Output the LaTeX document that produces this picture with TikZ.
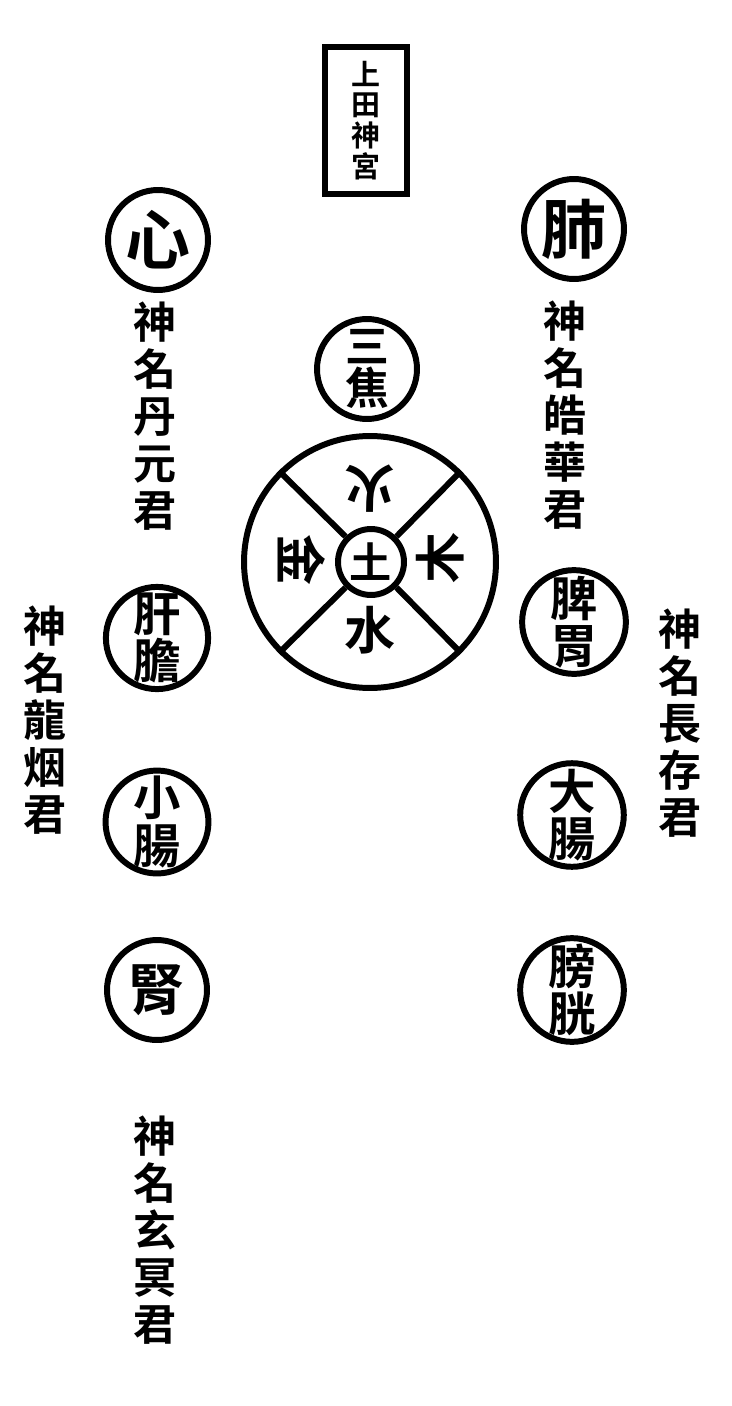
\documentclass[tikz,border=0pt]{standalone}
\usepackage{fontspec}
\newfontfamily\cjk{Noto Sans CJK TC}[BoldFont={Noto Sans CJK TC Bold}]
\usetikzlibrary{positioning}
\tikzset{
  organ/.style={circle, draw=black, line width=3.4pt, minimum size=2cm,
    inner sep=0pt, align=center, font=\cjk\bfseries\fontsize{27}{27}\selectfont},
  bigorgan/.style={organ, font=\cjk\bfseries\fontsize{37}{37}\selectfont},
  godname/.style={inner sep=0pt, align=center,
    font=\cjk\bfseries\fontsize{24.5}{26.7}\selectfont},
  plaque/.style={rectangle, draw=black, line width=3.4pt, inner sep=0pt,
    minimum width=1.64cm, minimum height=2.94cm, align=center,
    font=\cjk\bfseries\fontsize{16.5}{17.5}\selectfont},
  element/.style={inner sep=0pt, font=\cjk\bfseries\fontsize{29}{29}\selectfont},
  spoke/.style={line width=3.4pt, color=black}
}

\begin{document}
\begin{tikzpicture}[x=0.02cm, y=-0.02cm]
  \useasboundingbox (0,0) rectangle (731,1406);

  % Shrine plaque
  \node[plaque] (shrine) at (366,120.5) {上\\田\\神\\宮};

  % Heart and lung with their gods
  \node[bigorgan] (xin) at (158,240) {心};
  \node[bigorgan] (fei) at (574,229) {肺};
  \node[godname] (xinname) at (155,416) {神\\名\\丹\\元\\君};
  \node[godname] (feiname) at (565,415) {神\\名\\皓\\華\\君};

  % Triple burner
  \node[organ, font=\cjk\bfseries\fontsize{25}{24}\selectfont] (sanjiao) at (367,369) {三\\焦};

  % Five phases wheel
  \node[circle, draw=black, line width=3.4pt, minimum size=5.04cm] (wuxing) at (370,562) {};
  \node[circle, draw=black, line width=3.4pt, minimum size=1.32cm, inner sep=0pt,
    font=\cjk\bfseries\fontsize{24}{24}\selectfont] (tu) at (371,562) {土};
  \draw[spoke] (tu.north east) -- (wuxing.north east);
  \draw[spoke] (tu.north west) -- (wuxing.north west);
  \draw[spoke] (tu.south east) -- (wuxing.south east);
  \draw[spoke] (tu.south west) -- (wuxing.south west);
  \node[element, rotate=180] (huo) at (370,489) {火};
  \node[element] (shui) at (370,630) {水};
  \node[element, rotate=-90] (jin) at (302,560) {金};
  \node[element, rotate=90] (mu) at (440,558) {木};

  % Left column
  \node[organ] (gandan) at (157,638) {肝\\膽};
  \node[organ] (xiaochang) at (157,822) {小\\腸};
  \node[organ, font=\cjk\bfseries\fontsize{32}{32}\selectfont] (shen) at (157,990) {腎};
  \node[godname] (ganname) at (45,720) {神\\名\\龍\\烟\\君};
  \node[godname] (shenname) at (155,1230) {神\\名\\玄\\冥\\君};

  % Right column
  \node[organ] (piwei) at (574,622) {脾\\胃};
  \node[organ] (dachang) at (572,815) {大\\腸};
  \node[organ] (pangguang) at (572,990) {膀\\胱};
  \node[godname] (piname) at (680,723) {神\\名\\長\\存\\君};
\end{tikzpicture}
\end{document}
